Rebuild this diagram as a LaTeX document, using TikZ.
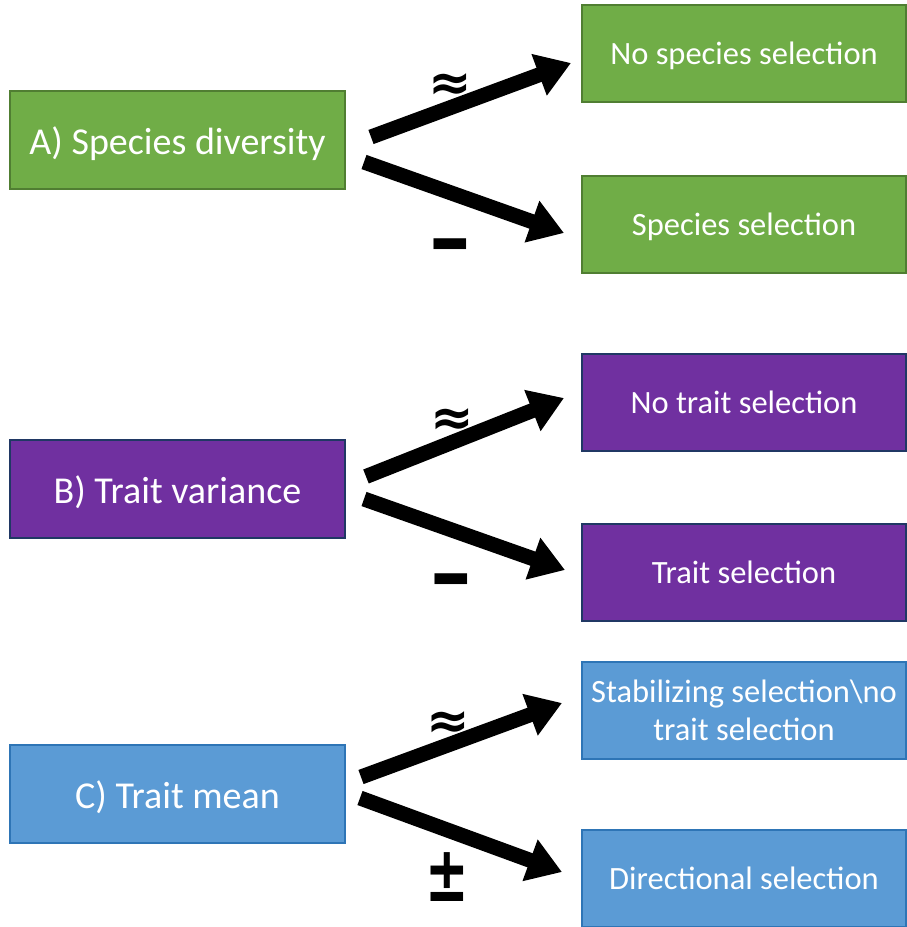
\documentclass[tikz,border=0pt]{standalone}
\usepackage{fontspec}
\setmainfont{Carlito}
\newfontfamily\symfont{DejaVu Sans}
\usetikzlibrary{arrows.meta,calc}

\definecolor{grnfill}{HTML}{70AD47}
\definecolor{grnline}{HTML}{507E32}
\definecolor{purfill}{HTML}{7030A0}
\definecolor{purline}{HTML}{203864}
\definecolor{blufill}{HTML}{5B9BD5}
\definecolor{bluline}{HTML}{2E75B6}

\tikzset{
  box/.style={rectangle, line width=2pt, text=white, inner sep=0pt, align=center},
  leftbox/.style={box, minimum width=335pt, minimum height=98pt,
    text height=29pt, text depth=0pt, font=\fontsize{38}{44}\selectfont},
  rightbox/.style={box, minimum width=324pt, minimum height=97pt,
    font=\fontsize{32.5}{38}\selectfont},
  oneline/.style={text height=21pt, text depth=0pt},
  grn/.style={fill=grnfill, draw=grnline},
  pur/.style={fill=purfill, draw=purline},
  blu/.style={fill=blufill, draw=bluline},
  fatarrow/.style={line width=15pt, -{Triangle[length=34pt,width=42pt]}},
  sign/.style={font=\symfont\bfseries\fontsize{52}{56}\selectfont, inner sep=0pt}
}

\begin{document}
\begin{tikzpicture}[x=1pt,y=-1pt]
\useasboundingbox (0,0) rectangle (907,927);

% Group A: species diversity
\node[leftbox,grn]          (A)  at (177.5,139.5) {A) Species diversity};
\node[rightbox,oneline,grn] (A1) at (744,53.5)    {No species selection};
\node[rightbox,oneline,grn] (A2) at (744,224.5)   {Species selection};
\draw[fatarrow] ($(A.east)+(25,-2.5)$) -- ($(A1.west)+(-10,9.5)$);
\draw[fatarrow] ($(A.east)+(18,22.5)$) -- ($(A2.west)+(-17,8.5)$);
\node[sign] (A1s) at (450,87)  {≈};
\node[sign] (A2s) at (450,256) {\scalebox{1}[1.8]{−}};

% Group B: trait variance
\node[leftbox,pur]          (B)  at (177.5,488.5) {B) Trait variance};
\node[rightbox,oneline,pur] (B1) at (744,402.5)   {No trait selection};
\node[rightbox,oneline,pur] (B2) at (744,572.5)   {Trait selection};
\draw[fatarrow] ($(B.east)+(20,-12)$) -- ($(B1.west)+(-17,-4.5)$);
\draw[fatarrow] ($(B.east)+(18,10.5)$) -- ($(B2.west)+(-16,-2.5)$);
\node[sign] (B1s) at (452,422) {≈};
\node[sign] (B2s) at (451,591) {\scalebox{1}[1.8]{−}};

% Group C: trait mean
\node[leftbox,blu]  (C)  at (177.5,793.5) {C) Trait mean};
\node[rightbox,blu] (C1) at (744,710)     {Stabilizing selection\textbackslash no\\trait selection};
\node[rightbox,oneline,blu] (C2) at (744,878.5) {Directional selection};
\draw[fatarrow] ($(C.east)+(15,-16.5)$) -- ($(C1.west)+(-19,-7)$);
\draw[fatarrow] ($(C.east)+(14,4.5)$) -- ($(C2.west)+(-19,-6.5)$);
\node[sign] (C1s) at (448,725) {≈};
\node[sign] (C2s) at (447,877) {\scalebox{1}[1.5]{±}};
\end{tikzpicture}
\end{document}
